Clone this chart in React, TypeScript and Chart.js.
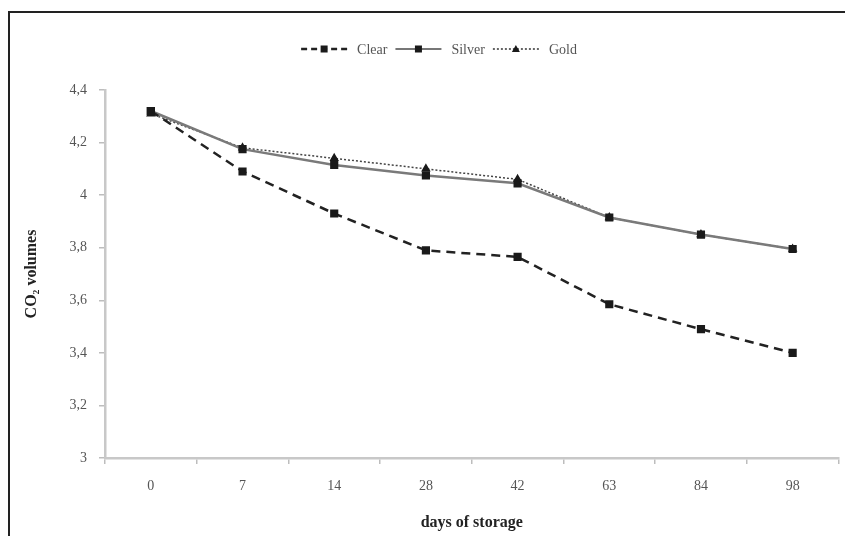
import React, { useEffect, useRef } from "react";
import { Chart, registerables } from "chart.js";

Chart.register(...registerables);

const days = ["0", "7", "14", "28", "42", "63", "84", "98"];
const clearValues = [4.32, 4.09, 3.93, 3.79, 3.765, 3.585, 3.49, 3.4];
const silverValues = [4.32, 4.175, 4.115, 4.075, 4.045, 3.915, 3.85, 3.795];
const goldValues = [4.31, 4.18, 4.14, 4.1, 4.06, 3.915, 3.85, 3.795];
const yTicks = [3, 3.2, 3.4, 3.6, 3.8, 4, 4.2, 4.4];

const SERIF = "'Liberation Serif', 'DejaVu Serif', serif";

const legendItems = [
  { label: "Clear", color: "#222", dash: [6, 4], width: 2.5, marker: "rect" },
  { label: "Silver", color: "#777", dash: [], width: 2, marker: "rect" },
  { label: "Gold", color: "#333", dash: [2, 2], width: 1.5, marker: "triangle" },
];

const legendPlugin = {
  id: "customLegend",
  afterDraw(chart: any) {
    const ctx = chart.ctx;
    ctx.save();
    ctx.font = `14px ${SERIF}`;
    const lineLen = 46;
    const gapAfterLine = 10;
    const gapAfterText = 8;
    const widths = legendItems.map(
      (it) => lineLen + gapAfterLine + ctx.measureText(it.label).width + gapAfterText
    );
    const total = widths.reduce((a, b) => a + b, 0);
    let x = 443 - total / 2;
    const y = 49;
    legendItems.forEach((it, i) => {
      ctx.strokeStyle = it.color;
      ctx.lineWidth = it.width;
      ctx.setLineDash(it.dash);
      ctx.beginPath();
      ctx.moveTo(x, y);
      ctx.lineTo(x + lineLen, y);
      ctx.stroke();
      ctx.setLineDash([]);
      ctx.fillStyle = "#1a1a1a";
      const mx = x + lineLen / 2;
      if (it.marker === "rect") {
        ctx.fillRect(mx - 3.5, y - 3.5, 7, 7);
      } else {
        ctx.beginPath();
        ctx.moveTo(mx, y - 4);
        ctx.lineTo(mx + 4, y + 3);
        ctx.lineTo(mx - 4, y + 3);
        ctx.closePath();
        ctx.fill();
      }
      ctx.fillStyle = "#555";
      ctx.textBaseline = "middle";
      ctx.textAlign = "left";
      ctx.fillText(it.label, x + lineLen + gapAfterLine, y + 1);
      x += widths[i];
    });
    ctx.restore();
  },
};

export default function App() {
  const ref = useRef<HTMLCanvasElement | null>(null);
  useEffect(() => {
    if (!ref.current) return;
    const chart = new Chart(ref.current, {
      type: "line",
      data: {
        labels: days,
        datasets: [
          {
            label: "Clear",
            data: clearValues,
            borderColor: "#222",
            borderWidth: 2.5,
            borderDash: [9, 6],
            pointStyle: "rect",
            pointRadius: 4,
            pointBackgroundColor: "#1a1a1a",
            pointBorderColor: "#1a1a1a",
            tension: 0,
          },
          {
            label: "Silver",
            data: silverValues,
            borderColor: "#7a7a7a",
            borderWidth: 2.5,
            pointStyle: "rect",
            pointRadius: 4,
            pointBackgroundColor: "#1a1a1a",
            pointBorderColor: "#1a1a1a",
            tension: 0,
          },
          {
            label: "Gold",
            data: goldValues,
            borderColor: "#444",
            borderWidth: 1.5,
            borderDash: [2, 2],
            pointStyle: "triangle",
            pointRadius: 4,
            pointBackgroundColor: "#1a1a1a",
            pointBorderColor: "#1a1a1a",
            tension: 0,
          },
        ],
      },
      options: {
        responsive: false,
        animation: false,
        devicePixelRatio: 1,
        layout: { padding: { top: 90, left: 0, right: 0, bottom: 0 } },
        plugins: {
          legend: { display: false },
          tooltip: { enabled: false },
        },
        scales: {
          x: {
            type: "category",
            offset: true,
            grid: {
              offset: true,
              drawOnChartArea: false,
              drawTicks: true,
              tickLength: 6,
              color: "#bdbdbd",
              lineWidth: 1.5,
            },
            border: { color: "#c8c8c8", width: 2.5 },
            ticks: {
              color: "#555",
              font: { family: SERIF, size: 14 },
              padding: 14,
            },
            title: {
              display: true,
              text: "days of storage",
              color: "#222",
              font: { family: SERIF, size: 16, weight: "bold" },
              padding: { top: 4 },
            },
            afterFit(scale: any) {
              scale.height = 78;
            },
          },
          y: {
            min: 3,
            max: 4.4,
            afterBuildTicks(scale: any) {
              scale.ticks = yTicks.map((v) => ({ value: v }));
            },
            grid: {
              drawOnChartArea: false,
              drawTicks: true,
              tickLength: 6,
              color: "#bdbdbd",
              lineWidth: 1.5,
            },
            border: { color: "#c8c8c8", width: 2.5 },
            ticks: {
              color: "#555",
              font: { family: SERIF, size: 14 },
              padding: 12,
              callback: (v: any) => String(Number(Number(v).toFixed(1))).replace(".", ","),
            },
            title: {
              display: true,
              text: "CO\u2082 volumes",
              color: "#222",
              font: { family: SERIF, size: 16, weight: "bold" },
              padding: { top: 22, bottom: 0 },
            },
            afterFit(scale: any) {
              scale.width = 105;
            },
          },
        },
      },
      plugins: [legendPlugin],
    });
    return () => chart.destroy();
  }, []);

  return (
    <div style={{ position: "absolute", left: 0, top: 0, width: 845, height: 536, background: "#fff", overflow: "hidden" }}>
      <canvas ref={ref} width={845} height={536} style={{ position: "absolute", left: 0, top: 0 }} />
      <div
        style={{
          position: "absolute",
          left: 8,
          top: 11,
          width: 845,
          height: 536,
          borderLeft: "2px solid #222",
          borderTop: "2px solid #222",
          pointerEvents: "none",
        }}
      />
    </div>
  );
}
